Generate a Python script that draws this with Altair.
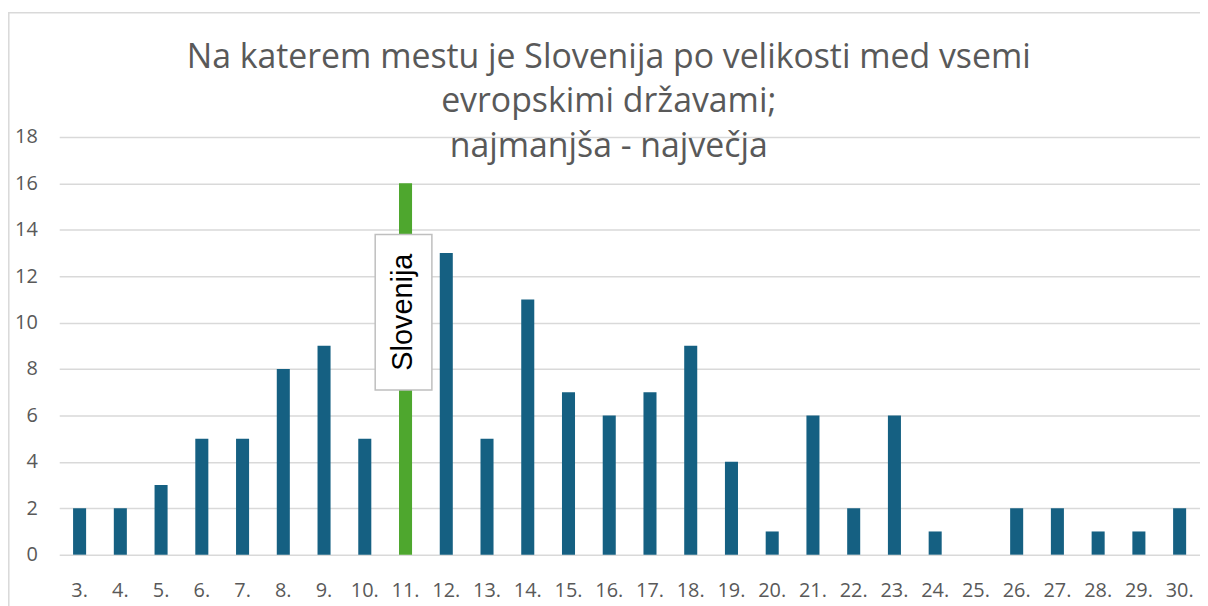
import altair as alt
import pandas as pd

categories = ["3.", "4.", "5.", "6.", "7.", "8.", "9.", "10.", "11.", "12.", "13.", "14.", "15.", "16.",
              "17.", "18.", "19.", "20.", "21.", "22.", "23.", "24.", "25.", "26.", "27.", "28.", "29.", "30."]
values = [2, 2, 3, 5, 5, 8, 9, 5, 16, 13, 5, 11, 7, 6, 7, 9, 4, 1, 6, 2, 6, 1, 0, 2, 2, 1, 1, 2]
highlight = "11."
label_text = "Slovenija"
label_low, label_mid, label_high = 7.1, 10.45, 13.8
title_lines = ["Na katerem mestu je Slovenija po velikosti med vsemi", "evropskimi državami;", "najmanjša - največja"]

df = pd.DataFrame({"cat": categories, "val": values})
df["hl"] = df["cat"].eq(highlight)

xenc = alt.X("cat:N", sort=categories, title=None,
             scale=alt.Scale(paddingInner=0.68, paddingOuter=0.34),
             axis=alt.Axis(labelAngle=0, labelFontSize=20, labelColor="#595959", labelFont="Open Sans",
                           labelPadding=26, ticks=False, domain=False, grid=False))
yenc = alt.Y("val:Q", title=None,
             scale=alt.Scale(domain=[0, 18]),
             axis=alt.Axis(values=list(range(0, 19, 2)), labelFontSize=20, labelColor="#595959",
                           labelFont="Open Sans", labelPadding=22, ticks=False, domain=False,
                           gridColor="#d9d9d9", gridWidth=1.5))

frame = alt.Chart(pd.DataFrame({"a": [0]})).mark_rect(fill="white", fillOpacity=0, stroke="#d9d9d9",
                                                       strokeWidth=1.5).encode(
    x=alt.value(-50.7), x2=alt.value(1160), y=alt.value(-125), y2=alt.value(520))

bars = alt.Chart(df).mark_bar().encode(
    x=xenc, y=yenc,
    color=alt.condition(alt.datum.hl, alt.value("#4ea72e"), alt.value("#156082")))

lab = pd.DataFrame({"cat": [highlight], "lo": [label_low], "hi": [label_high], "mid": [label_mid], "t": [label_text]})
box = alt.Chart(lab).mark_bar(width=57, fill="white", stroke="#bfbfbf", strokeWidth=1.5, xOffset=-2).encode(
    x=alt.X("cat:N", sort=categories), y="lo:Q", y2="hi:Q")
txt = alt.Chart(lab).mark_text(angle=270, fontSize=29, font="Liberation Sans", color="black",
                               align="center", baseline="middle", xOffset=-2).encode(
    x=alt.X("cat:N", sort=categories), y="mid:Q", text="t:N")

chart = alt.layer(bars, frame, box, txt).properties(
    width=1147, height=420,
    autosize=alt.AutoSizeParams(type="none"),
    padding={"left": 51.5, "top": 128, "right": 0, "bottom": 60},
    title=alt.TitleParams(text=title_lines, fontSize=34, font="Open Sans", fontWeight="normal",
                          color="#595959", anchor="middle", dx=-21, offset=-180, baseline="alphabetic",
                          lineHeight=45),
).configure_view(stroke=None)

chart.save("out.html", embed_options={"renderer": "svg", "actions": False})
